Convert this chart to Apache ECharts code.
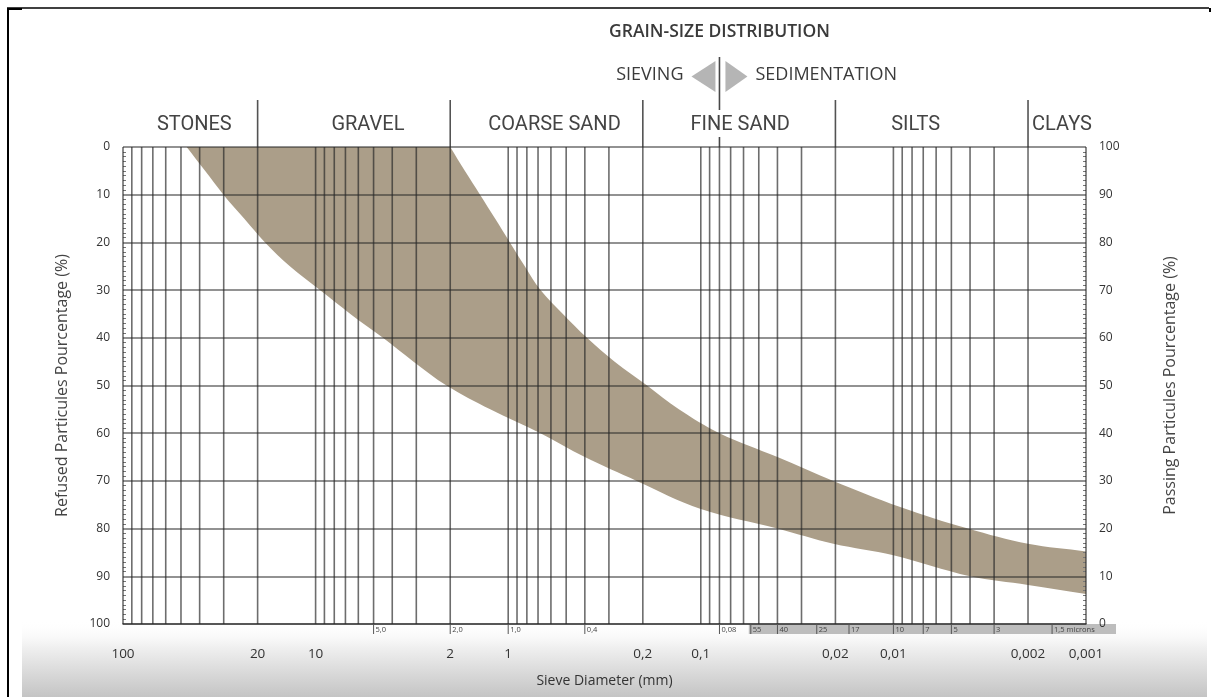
<!DOCTYPE html>
<html>
<head>
<meta charset="utf-8">
<script src="https://cdn.jsdelivr.net/npm/echarts@6/dist/echarts.min.js"></script>
<style>
  html, body { margin: 0; padding: 0; background: #ffffff; }
  #chart { width: 1212px; height: 697px; }
</style>
</head>
<body>
<div id="chart"></div>
<script>
// ---- Data -------------------------------------------------------------
// Labelled sieve diameters on the bottom axis (mm)
const diameterTicks = [100, 20, 10, 2, 1, 0.2, 0.1, 0.02, 0.01, 0.002, 0.001];
const diameterTickLabels = ['100', '20', '10', '2', '1', '0,2', '0,1', '0,02', '0,01', '0,002', '0,001'];

// Soil classes and their diameter bounds (mm), largest first
const classNames = ['STONES', 'GRAVEL', 'COARSE SAND', 'FINE SAND', 'SILTS', 'CLAYS'];
const classBounds = [100, 20, 2, 0.2, 0.02, 0.002, 0.001];

// Limit between sieving and sedimentation (mm)
const methodLimit = 0.08;

// Sieve openings (mm) and sedimentation diameters (mm) written under the axis
const sieveOpenings = [5, 2, 1, 0.4, 0.08];
const sieveLabels = ['5,0', '2,0', '1,0', '0,4', '0,08'];
const sedimentSizes = [0.055, 0.04, 0.025, 0.017, 0.01, 0.007, 0.005, 0.003, 0.0015];
const sedimentLabels = ['55', '40', '25', '17', '10', '7', '5', '3', '1,5 microns'];

// Grading envelope: coarse limit (left edge) and fine limit (right edge)
// diameter in mm, refused percentage
const coarseEdgeMm  = [46.7, 37.5, 30.1, 23.5, 18.3, 13.6, 9.5, 6.6, 4.47, 3.1, 2.09, 1.24, 0.68, 0.40, 0.215, 0.10, 0.04, 0.0205, 0.01, 0.004, 0.002, 0.001];
const coarseEdgePct = [0,    5,    10,   15,   20,   25,   30,  35,  40,   45,  50,   55,   60,   65,   70,    75.9, 80,   83.2,   85.6, 90,    91.8,  93.7];
const fineEdgeMm    = [2.0, 1.68, 1.40, 1.17, 0.98, 0.82, 0.68, 0.52, 0.39, 0.28, 0.19, 0.13, 0.08, 0.04, 0.0205, 0.0093, 0.0041, 0.002, 0.001];
const fineEdgePct   = [0,   5,    10,   15,   20,   25,   30,   35,   40,   45,   50,   55,   60,   65,   70,     75.4,   80,     83.2,  84.8];

// ---- Layout / style constants ----------------------------------------
const GRID = { left: 123, right: 126, top: 147, height: 477 };
const RULE_COLOR = 'rgba(40,40,40,0.68)';
const BAND_COLOR = '#ab9e89';
const TEXT_COLOR = '#333333';
const classLabelShift = [4, 14, 8, 1, -16, 5];

// Log-paper rulings: 1..9 x 10^k between 0.001 and 100 mm
const rulingDiameters = [];
for (let e = -3; e <= 1; e++) {
  for (let n = 1; n <= 9; n++) rulingDiameters.push(+(n * Math.pow(10, e)).toPrecision(6));
}
rulingDiameters.push(100);

function diameterLabel(v) {
  let best = 0, bestD = Infinity;
  diameterTicks.forEach((t, i) => {
    const d = Math.abs(Math.log10(t) - Math.log10(v));
    if (d < bestD) { bestD = d; best = i; }
  });
  return bestD < 1e-6 ? diameterTickLabels[best] : '';
}

const chart = echarts.init(document.getElementById('chart'), null, { renderer: 'canvas' });

const option = {
  backgroundColor: '#ffffff',
  animation: false,
  textStyle: { fontFamily: 'Open Sans' },
  grid: { left: GRID.left, right: GRID.right, top: GRID.top, height: GRID.height, containLabel: false },
  xAxis: {
    type: 'log',
    logBase: 10,
    min: 0.001,
    max: 100,
    inverse: true,
    z: 3,
    axisLine: { show: true, onZero: false, lineStyle: { color: '#444', width: 1.5 } },
    axisTick: { show: false },
    splitLine: { show: false },
    axisLabel: {
      show: true,
      customValues: diameterTicks,
      margin: 23,
      fontSize: 13.5,
      color: TEXT_COLOR,
      fontFamily: 'Open Sans',
      formatter: diameterLabel
    },
    name: 'Sieve Diameter (mm)',
    nameLocation: 'middle',
    nameGap: 50,
    nameTextStyle: { fontSize: 14, color: TEXT_COLOR, fontFamily: 'Open Sans' }
  },
  yAxis: [
    {
      type: 'value',
      min: 0, max: 100, interval: 10,
      inverse: true,
      position: 'left',
      z: 3,
      axisLine: { show: false },
      axisTick: { show: false, inside: true },
      minorTick: { show: true, splitNumber: 10, length: 3, lineStyle: { color: '#777', width: 1 } },
      splitLine: { show: true, lineStyle: { color: RULE_COLOR, width: 1.6 } },
      axisLabel: { margin: 13, fontSize: 12, color: TEXT_COLOR, fontFamily: 'Open Sans' },
      name: 'Refused Particules Pourcentage (%)',
      nameLocation: 'middle',
      nameGap: 53,
      nameRotate: 90,
      nameTextStyle: { fontSize: 16, color: '#444444', fontFamily: 'Open Sans' }
    },
    {
      type: 'value',
      min: 0, max: 100, interval: 10,
      position: 'right',
      z: 3,
      axisLine: { show: false },
      axisTick: { show: false, inside: true },
      minorTick: { show: true, splitNumber: 10, length: 3, lineStyle: { color: '#777', width: 1 } },
      splitLine: { show: false },
      axisLabel: { margin: 13, fontSize: 12, color: TEXT_COLOR, fontFamily: 'Open Sans' },
      name: 'Passing Particules Pourcentage (%)',
      nameLocation: 'middle',
      nameGap: 76,
      nameRotate: 90,
      nameTextStyle: { fontSize: 16, color: '#444444', fontFamily: 'Open Sans' }
    }
  ],
  graphic: {
    elements: [
      {
        type: 'rect', z: -10, silent: true,
        shape: { x: 22, y: 620, width: 1185, height: 77 },
        style: {
          fill: new echarts.graphic.LinearGradient(0, 0, 0, 1, [
            { offset: 0, color: 'rgba(255,255,255,0)' },
            { offset: 0.35, color: '#f0f0f0' },
            { offset: 1, color: '#c4c4c4' }
          ])
        }
      },
      { type: 'line', z: 20, silent: true, shape: { x1: 8, y1: 8, x2: 8, y2: 697 }, style: { stroke: '#000', lineWidth: 2 } },
      { type: 'line', z: 20, silent: true, shape: { x1: 7, y1: 8, x2: 1209, y2: 8 }, style: { stroke: '#000', lineWidth: 1.5 } },
      { type: 'rect', z: 20, silent: true, shape: { x: 7, y: 8, width: 15, height: 2 }, style: { fill: '#000' } },
      { type: 'line', z: 20, silent: true, shape: { x1: 1210, y1: 8, x2: 1210, y2: 12 }, style: { stroke: '#000', lineWidth: 2 } }
    ]
  },
  series: [
    // Grading envelope (corner vertices doubled so the smoothing keeps them sharp)
    {
      type: 'custom',
      name: 'envelope',
      z: 1,
      silent: true,
      clip: true,
      data: [[1, 50]],
      renderItem: function (params, api) {
        const pts = [];
        const nC = coarseEdgeMm.length, nF = fineEdgeMm.length;
        for (let i = 0; i < nC; i++) {
          const p = api.coord([coarseEdgeMm[i], coarseEdgePct[i]]);
          pts.push(p);
          if (i === 0 || i === nC - 1) pts.push(p.slice());
        }
        for (let i = nF - 1; i >= 0; i--) {
          const p = api.coord([fineEdgeMm[i], fineEdgePct[i]]);
          pts.push(p);
          if (i === 0 || i === nF - 1) pts.push(p.slice());
        }
        const c0 = api.coord([100, 0]);
        const c1 = api.coord([0.001, 100]);
        const box = [[Math.min(c0[0], c1[0]), Math.min(c0[1], c1[1])], [Math.max(c0[0], c1[0]), Math.max(c0[1], c1[1])]];
        return {
          type: 'polygon',
          shape: { points: pts, smooth: 0.35, smoothConstraint: box },
          style: { fill: BAND_COLOR }
        };
      }
    },
    // Vertical log-paper rulings
    {
      type: 'custom',
      name: 'rulings',
      z: 4,
      silent: true,
      data: rulingDiameters.map(d => [d, 0]),
      renderItem: function (params, api) {
        const d = api.value(0);
        const p0 = api.coord([d, 0]);
        const p1 = api.coord([d, 100]);
        return {
          type: 'line',
          shape: { x1: p0[0], y1: p0[1], x2: p1[0], y2: p1[1] },
          style: { stroke: RULE_COLOR, lineWidth: 1.6 }
        };
      }
    },
    // Class names and class limits above the plot
    {
      type: 'custom',
      name: 'classes',
      z: 4,
      silent: true,
      data: classNames.map((n, i) => [classBounds[i], 0]),
      renderItem: function (params, api) {
        const i = params.dataIndex;
        const left = api.coord([classBounds[i], 0]);
        const right = api.coord([classBounds[i + 1], 0]);
        const children = [];
        if (i > 0) {
          children.push({
            type: 'line',
            shape: { x1: left[0], y1: left[1] - 47, x2: left[0], y2: left[1] },
            style: { stroke: 'rgba(40,40,40,0.8)', lineWidth: 1.6 }
          });
        }
        const cx = (left[0] + right[0]) / 2 + classLabelShift[i];
        children.push({
          type: 'text',
          style: {
            x: cx, y: left[1] - 22,
            text: classNames[i],
            align: 'center', verticalAlign: 'middle',
            fill: '#444444',
            font: '400 20px Roboto'
          }
        });
        return { type: 'group', children: children };
      }
    },
    // Sieving / sedimentation header
    {
      type: 'custom',
      name: 'method',
      z: 4,
      silent: true,
      data: [[methodLimit, 0]],
      renderItem: function (params, api) {
        const p = api.coord([methodLimit, 0]);
        const x = p[0], top = p[1];
        return {
          type: 'group',
          children: [
            { type: 'line', shape: { x1: x, y1: top - 90, x2: x, y2: top - 37 }, style: { stroke: 'rgba(40,40,40,0.85)', lineWidth: 1.6 } },
            { type: 'line', shape: { x1: x, y1: top - 10, x2: x, y2: top }, style: { stroke: 'rgba(40,40,40,0.85)', lineWidth: 1.6 } },
            { type: 'polygon', shape: { points: [[x - 4, top - 86], [x - 4, top - 55], [x - 28, top - 70.5]] }, style: { fill: '#b5b5b5' } },
            { type: 'polygon', shape: { points: [[x + 6, top - 86], [x + 6, top - 55], [x + 28, top - 70.5]] }, style: { fill: '#b5b5b5' } },
            { type: 'text', style: { x: x, y: top - 115, text: 'GRAIN-SIZE DISTRIBUTION', align: 'center', verticalAlign: 'middle', fill: '#3a3a3a', font: '600 17.5px "Open Sans"' } },
            { type: 'text', style: { x: x - 36, y: top - 72, text: 'SIEVING', align: 'right', verticalAlign: 'middle', fill: '#3a3a3a', font: '500 18px "Open Sans"' } },
            { type: 'text', style: { x: x + 36, y: top - 72, text: 'SEDIMENTATION', align: 'left', verticalAlign: 'middle', fill: '#3a3a3a', font: '500 18px "Open Sans"' } }
          ]
        };
      }
    },
    // Sedimentation scale band under the axis
    {
      type: 'custom',
      name: 'sedimentBar',
      z: 2,
      silent: true,
      data: [[sedimentSizes[0], 100]],
      renderItem: function (params, api) {
        const a = api.coord([sedimentSizes[0], 100]);
        const b = api.coord([0.001, 100]);
        return { type: 'rect', shape: { x: a[0] - 2, y: a[1], width: b[0] - a[0] + 32, height: 10 }, style: { fill: '#bdbdbd' } };
      }
    },
    // Sieve openings and sedimentation diameters
    {
      type: 'custom',
      name: 'sizeMarks',
      z: 4,
      silent: true,
      data: sieveOpenings.map((d, i) => [d, 100]).concat(sedimentSizes.map((d, i) => [d, 100])),
      renderItem: function (params, api) {
        const i = params.dataIndex;
        const label = i < sieveLabels.length ? sieveLabels[i] : sedimentLabels[i - sieveLabels.length];
        const p = api.coord([api.value(0), 100]);
        return {
          type: 'group',
          children: [
            { type: 'line', shape: { x1: p[0], y1: p[1], x2: p[0], y2: p[1] + 10 }, style: { stroke: '#555', lineWidth: 1 } },
            { type: 'text', style: { x: p[0] + 2, y: p[1] + 5.5, text: label, align: 'left', verticalAlign: 'middle', fill: '#444', font: '7.5px "Open Sans"' } }
          ]
        };
      }
    }
  ]
};

chart.setOption(option);
</script>
</body>
</html>
